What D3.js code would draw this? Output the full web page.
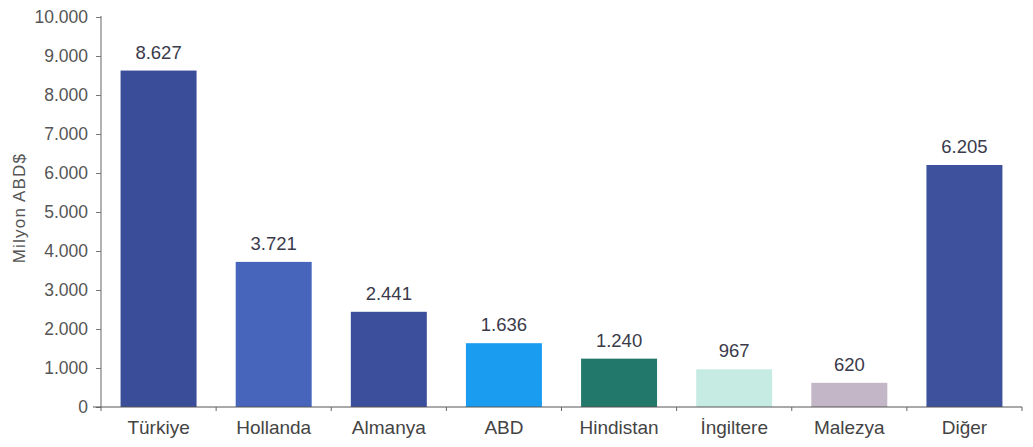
<!DOCTYPE html>
<html><head><meta charset="utf-8">
<script src="https://cdn.jsdelivr.net/npm/d3@7/dist/d3.min.js"></script>
<style>body{margin:0;background:#fff;}svg{display:block;font-family:"Liberation Sans",Arial,sans-serif;}</style>
</head><body>
<svg id="c" width="1033" height="447"></svg>
<script>
const categories = ["Türkiye","Hollanda","Almanya","ABD","Hindistan","İngiltere","Malezya","Diğer"];
const values = [8627,3721,2441,1636,1240,967,620,6205];
const valueLabels = ["8.627","3.721","2.441","1.636","1.240","967","620","6.205"];
const colors = ["#3a4d99","#4766bb","#3b4f9c","#1a9df0","#23786c","#c6ebe2","#c3b6c6","#3d519d"];
const yTicks = [0,1000,2000,3000,4000,5000,6000,7000,8000,9000,10000];
const yTickLabels = ["0","1.000","2.000","3.000","4.000","5.000","6.000","7.000","8.000","9.000","10.000"];
const yTitle = "Milyon ABD$";

const svg = d3.select("#c");
const x0 = 101, x1 = 1022, yTop = 17, yBot = 407;
const x = d3.scaleBand().domain(categories).range([x0, x1]).paddingInner(0.34).paddingOuter(0.17);
const y = d3.scaleLinear().domain([0,10000]).range([yBot, yTop]);

// bars
svg.selectAll("rect.bar").data(categories).join("rect")
  .attr("x", d => x(d)).attr("width", x.bandwidth())
  .attr("y", (d,i) => y(values[i])).attr("height", (d,i) => yBot - y(values[i]))
  .attr("fill", (d,i) => colors[i]);

// value labels
svg.selectAll("text.val").data(categories).join("text")
  .attr("x", d => x(d) + x.bandwidth()/2)
  .attr("y", (d,i) => y(values[i]) - 12)
  .attr("text-anchor","middle").attr("font-size",18.5).attr("fill","#3a3a4a")
  .text((d,i) => valueLabels[i]);

// y axis
const yAxis = d3.axisLeft(y).tickValues(yTicks).tickSize(5).tickFormat((d,i) => yTickLabels[i]);
const gy = svg.append("g").attr("transform",`translate(${x0},0)`).call(yAxis);
gy.select(".domain").attr("stroke","#666").attr("d",`M0,${yBot}V${yTop-1}`);
gy.selectAll(".tick line").attr("stroke","#777");
gy.selectAll(".tick text").attr("font-size",17.5).attr("fill","#555").attr("x",-13);

// x axis
const gx = svg.append("g").attr("transform",`translate(0,${yBot})`);
gx.append("line").attr("x1",x0-8).attr("x2",x1).attr("y1",0).attr("y2",0).attr("stroke","#555");
const step = x.step();
const bounds = d3.range(categories.length+1).map(i => x0 + i*step);
gx.selectAll("line.t").data(bounds).join("line")
  .attr("x1",d=>d).attr("x2",d=>d).attr("y1",0).attr("y2",4).attr("stroke","#666");
gx.selectAll("text").data(categories).join("text")
  .attr("x", d => x(d) + x.bandwidth()/2).attr("y", 27)
  .attr("text-anchor","middle").attr("font-size",19).attr("fill","#444")
  .text(d => d);

// y title
svg.append("text").attr("transform","translate(25,208) rotate(-90)")
  .attr("text-anchor","middle").attr("font-size",17).attr("letter-spacing",1.2).attr("fill","#555").text(yTitle);
</script>
</body></html>
